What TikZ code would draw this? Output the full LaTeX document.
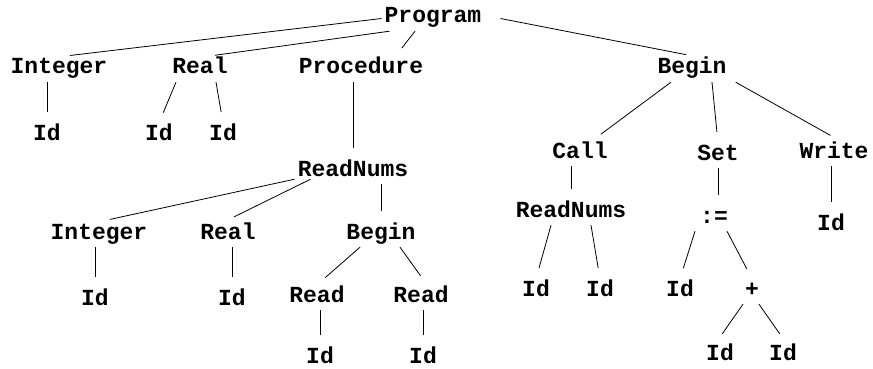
\documentclass[tikz,border=0pt]{standalone}
\usepackage{fontspec}
\newfontfamily\treefont{Liberation Mono}
\usepackage{tikz}
\tikzset{
    %Define style for tree labels
    tnode/.style={
           anchor=base,
           inner sep=3pt,
           text height=14pt,
           text depth=5pt,
           font=\treefont\bfseries\fontsize{23}{23}\selectfont,
           text centered},
    % Define branch style
    branch/.style={
           -,
           line width=0.8pt,
           shorten >=11pt,
           shorten <=0pt}
}
\begin{document}
\begin{tikzpicture}[x=1pt,y=-1pt,every node/.style={tnode}]
\useasboundingbox (0,0) rectangle (873,369);
% top level
\node (prog) at (433,23) {Program};
\node (int1) at (59,74) {Integer};
\node (real1) at (200,74) {Real};
\node (proc) at (361,74) {Procedure};
\node (beg1) at (692,74) {Begin};
\node (id1) at (47,140) {Id};
\node (id2) at (159,140) {Id};
\node (id3) at (223,140) {Id};
% procedure body
\node (rn1) at (353,176) {ReadNums};
\node (int2) at (99,239) {Integer};
\node (real2) at (228,239) {Real};
\node (beg2) at (381,239) {Begin};
\node (id4) at (95,305) {Id};
\node (id5) at (232,305) {Id};
\node (rd1) at (317,302) {Read};
\node (rd2) at (421,302) {Read};
\node (id6) at (320,363) {Id};
\node (id7) at (423,363) {Id};
% main body
\node (call) at (580,158) {Call};
\node (set) at (718,160) {Set};
\node (write) at (834,158) {Write};
\node (rn2) at (571,217) {ReadNums};
\node (asg) at (714,223) {:=};
\node (id8) at (831,230) {Id};
\node (id9) at (536,296) {Id};
\node (id10) at (600,296) {Id};
\node (id11) at (680,296) {Id};
\node (plus) at (752,296) {+};
\node (id12) at (720,360) {Id};
\node (id13) at (783,360) {Id};
\path[branch]
	(prog.west) edge (int1.north)
	([xshift=8pt]prog.south west) edge ([xshift=4pt]real1.north)
	([xshift=-18pt]prog.south) edge ([xshift=34pt]proc.north)
	([xshift=16pt]prog.east) edge ([xshift=5pt]beg1.north)
	(int1.south -| id1) edge (id1.north)
	([xshift=-24pt]real1.south) edge (id2.north)
	([xshift=16pt]real1.south) edge (id3.north)
	(proc.south -| rn1) edge (rn1.north)
	([yshift=5pt]rn1.south west) edge (int2.north)
	([xshift=16pt,yshift=5pt]rn1.south west) edge ([xshift=-4pt]real2.north)
	(rn1.south -| beg2) edge (beg2.north)
	(int2.south -| id4) edge (id4.north)
	(real2.south -| id5) edge (id5.north)
	([xshift=-21pt]beg2.south) edge (rd1.north)
	([xshift=19pt]beg2.south) edge ([xshift=6pt]rd2.north)
	(rd1.south -| id6) edge (id6.north)
	(rd2.south -| id7) edge (id7.north)
	([xshift=-21pt]beg1.south) edge ([xshift=12pt]call.north)
	([xshift=20pt]beg1.south) edge (set.north)
	([xshift=6pt]beg1.south east) edge ([xshift=6pt]write.north)
	(call.south -| rn2) edge (rn2.north)
	(set.south) edge (set.south |- asg.north)
	(write.south -| id8) edge (id8.north)
	([xshift=-20pt]rn2.south) edge (id9.north)
	([xshift=20pt]rn2.south) edge (id10.north)
	([xshift=-19pt]asg.south) edge (id11.north)
	([xshift=13pt]asg.south) edge (plus.north)
	([xshift=-9pt]plus.south) edge ([xshift=-4pt]id12.north)
	([xshift=7pt]plus.south) edge ([xshift=3pt]id13.north);
\end{tikzpicture}
\end{document}
